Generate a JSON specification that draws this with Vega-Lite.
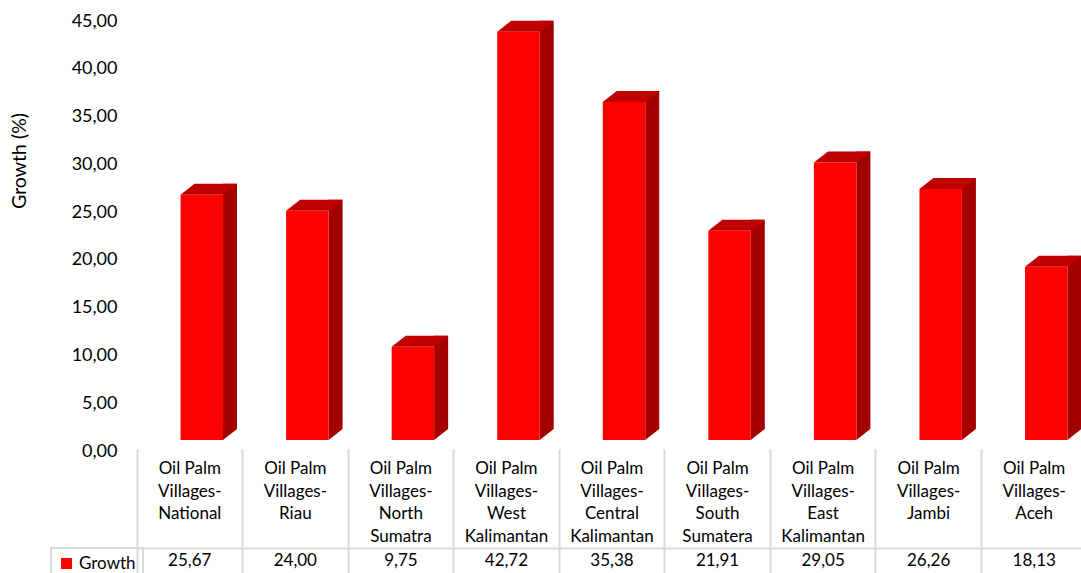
{
  "$schema": "https://vega.github.io/schema/vega-lite/v6.json",
  "width": 944,
  "height": 430,
  "autosize": {"type": "none"},
  "padding": {"left": 137, "top": 10, "right": 0, "bottom": 133},
  "background": "white",
  "data": {
    "values": [
      {"region": "Oil Palm Villages-National", "growth": 25.67},
      {"region": "Oil Palm Villages-Riau", "growth": 24.00},
      {"region": "Oil Palm Villages-North Sumatra", "growth": 9.75},
      {"region": "Oil Palm Villages-West Kalimantan", "growth": 42.72},
      {"region": "Oil Palm Villages-Central Kalimantan", "growth": 35.38},
      {"region": "Oil Palm Villages-South Sumatera", "growth": 21.91},
      {"region": "Oil Palm Villages-East Kalimantan", "growth": 29.05},
      {"region": "Oil Palm Villages-Jambi", "growth": 26.26},
      {"region": "Oil Palm Villages-Aceh", "growth": 18.13}
    ]
  },
  "config": {
    "font": "Lato",
    "view": {"stroke": null},
    "legend": {"strokeWidth": 2},
    "locale": {"number": {"decimal": ",", "thousands": ".", "grouping": [3], "currency": ["", " €"]}}
  },
  "layer": [
    {
      "mark": {"type": "bar", "color": "#a30000", "width": 14, "xOffset": 40.25, "yOffset": -11, "y2Offset": -11},
      "encoding": {
        "x": {
          "field": "region", "type": "nominal", "sort": null,
          "scale": {"range": [0, 950], "paddingInner": 0, "paddingOuter": 0},
          "axis": {"orient": "bottom", "offset": 108, "domain": true, "domainColor": "#d9d9d9", "domainWidth": 2, "ticks": false, "labels": false, "grid": false, "title": null}
        },
        "y": {
          "field": "growth",
          "type": "quantitative",
          "scale": {"domain": [0, 45], "nice": false},
          "axis": {
            "title": "Growth (%)",
            "values": [0, 5, 10, 15, 20, 25, 30, 35, 40, 45],
            "format": ".2f",
            "labelOffset": 11,
            "labelPadding": 20,
            "ticks": false,
            "domain": false,
            "grid": false,
            "labelFontSize": 18,
            "labelColor": "#000000",
            "titleFontSize": 19.5,
            "titleFontWeight": "normal",
            "titleColor": "#000000",
            "titleX": -117.5,
            "titleY": 150.5,
            "titleAngle": -90,
            "titleAlign": "center",
            "titleBaseline": "middle"
          }
        }
      }
    },
    {
      "mark": {"type": "point", "shape": "M -1 -0.8 L 1 -0.8 L -1 0.8 Z", "size": 196, "filled": true, "opacity": 1, "color": "#a30000", "strokeWidth": 0, "xOffset": 40.25, "yOffset": -5.5},
      "encoding": {
        "x": {"field": "region", "type": "nominal", "sort": null, "scale": {"range": [0, 950], "paddingInner": 0, "paddingOuter": 0}, "axis": null},
        "y": {"datum": 0}
      }
    },
    {
      "mark": {"type": "point", "shape": "M -1 0.195 L 0.504 0.195 L 1 -0.195 L -0.504 -0.195 Z", "size": 3192, "filled": true, "opacity": 1, "color": "#c00000", "strokeWidth": 0, "xOffset": 19, "yOffset": -5.5},
      "encoding": {
        "x": {"field": "region", "type": "nominal", "sort": null, "scale": {"range": [0, 950], "paddingInner": 0, "paddingOuter": 0}, "axis": null},
        "y": {"field": "growth", "type": "quantitative"}
      }
    },
    {
      "mark": {"type": "bar", "width": {"band": 0.402}, "xOffset": 12},
      "encoding": {
        "x": {
          "field": "region", "type": "nominal", "sort": null,
          "scale": {"range": [0, 950], "paddingInner": 0, "paddingOuter": 0},
          "axis": {
            "orient": "bottom", "offset": 9, "bandPosition": 0,
            "domain": false, "grid": false,
            "ticks": true, "tickSize": 125, "tickColor": "#d9d9d9", "tickWidth": 2,
            "labelExpr": "split(datum.label, regexp(' (?!Palm)|(?<=-)'))",
            "labelPadding": -113.5,
            "labelFontSize": 17, "labelLineHeight": 22.7, "labelBaseline": "top",
            "labelAlign": "center", "labelColor": "#000000", "labelAngle": 0,
            "labelOverlap": false, "labelLimit": 0, "title": null
          }
        },
        "y": {"field": "growth", "type": "quantitative"},
        "color": {
          "datum": "Growth",
          "scale": {"range": ["#ff0000"]},
          "legend": {
            "orient": "none", "legendX": -86, "legendY": 538, "title": null,
            "padding": 7, "strokeColor": "#d9d9d9", "cornerRadius": 0,
            "symbolType": "square", "symbolSize": 121, "symbolStrokeWidth": 0,
            "labelFontSize": 17, "labelOffset": 4, "labelColor": "#000000"
          }
        }
      }
    },
    {
      "mark": {"type": "text", "fontSize": 17, "baseline": "middle", "yOffset": 121, "color": "#000000"},
      "encoding": {
        "x": {"field": "region", "type": "nominal", "sort": null, "scale": {"range": [0, 950], "paddingInner": 0, "paddingOuter": 0}, "axis": null},
        "y": {"datum": 0},
        "text": {"field": "growth", "type": "quantitative", "format": ".2f"}
      }
    }
  ],
  "resolve": {"axis": {"x": "independent"}}
}
